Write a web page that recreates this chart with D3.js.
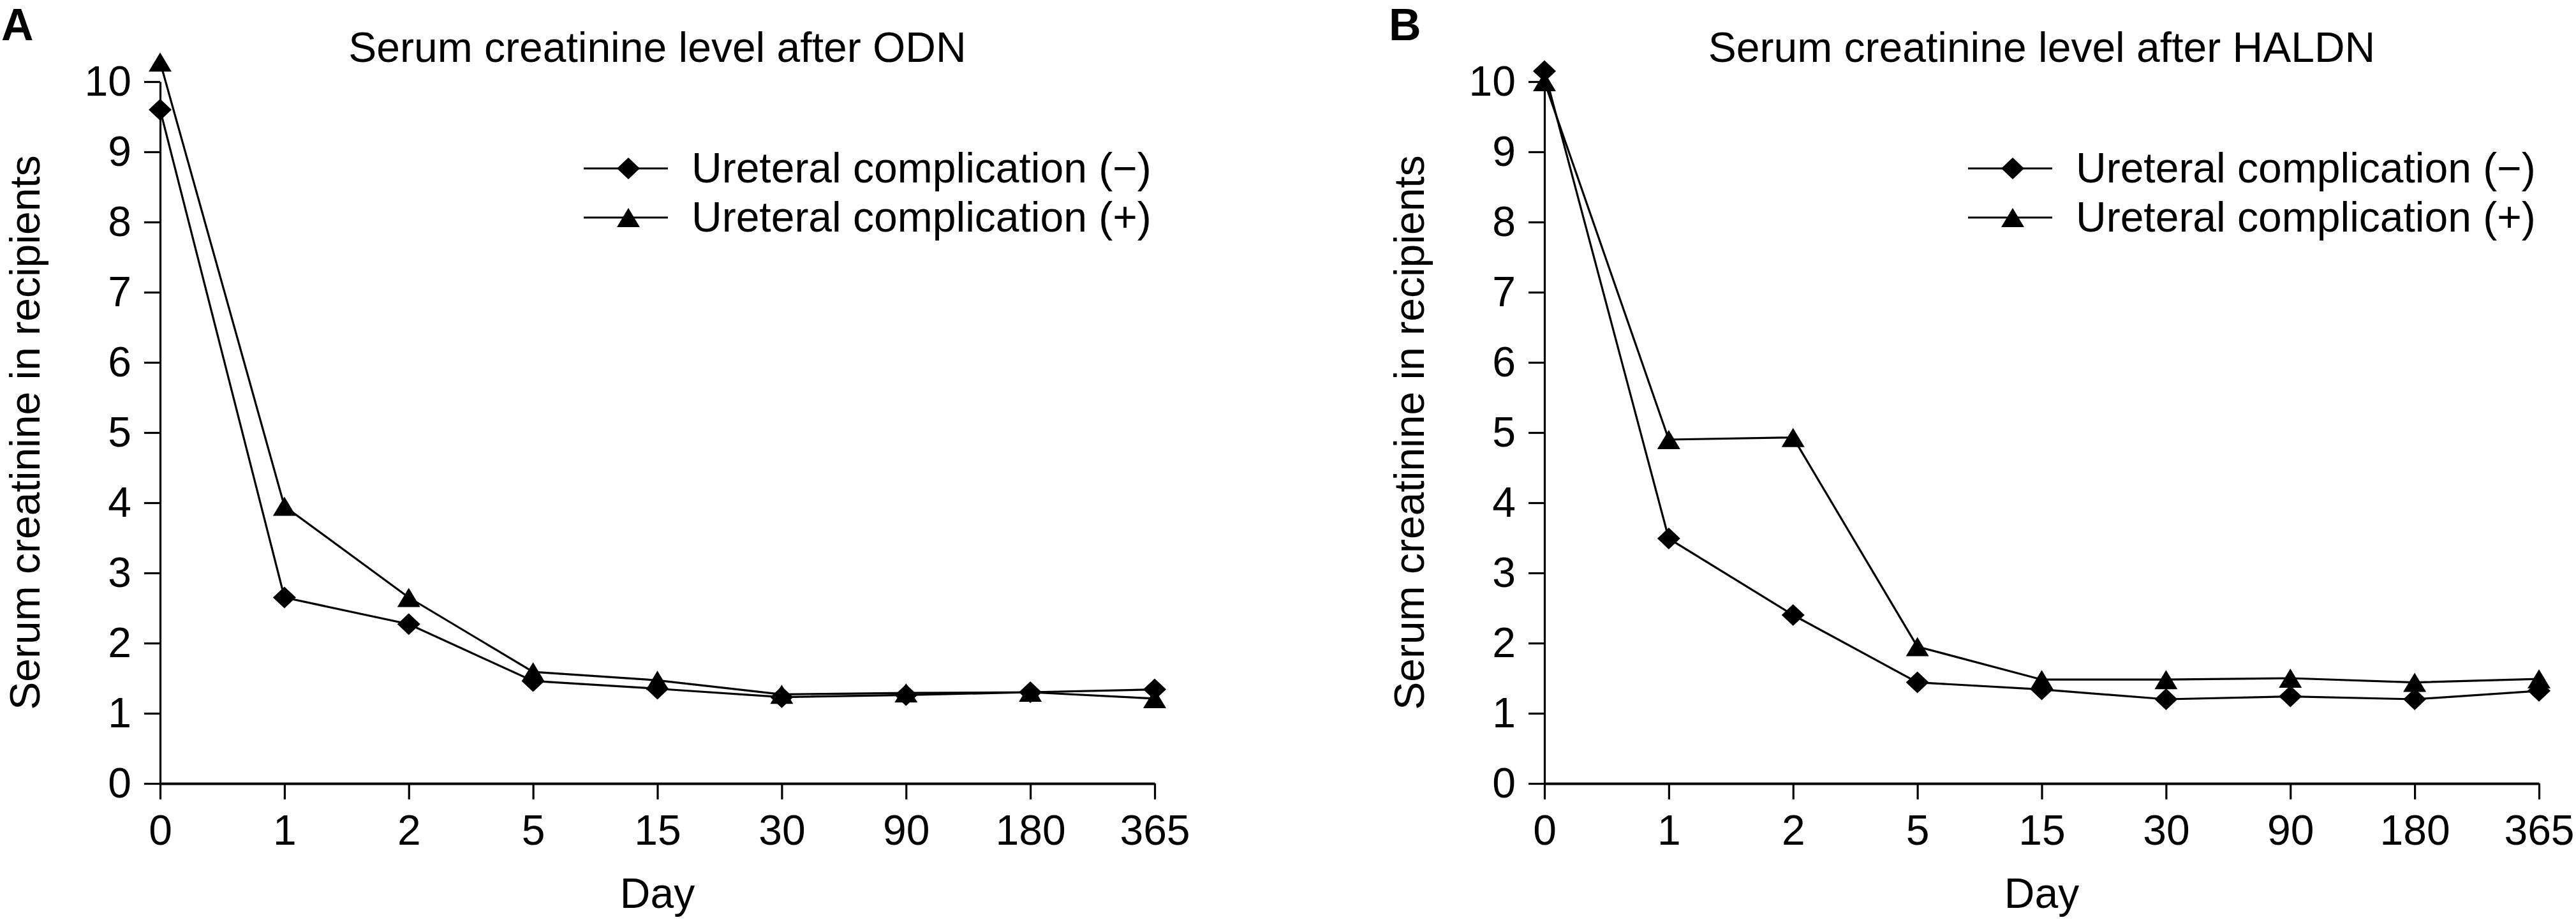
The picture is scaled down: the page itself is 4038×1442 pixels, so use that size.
<!DOCTYPE html>
<html>
<head>
<meta charset="utf-8">
<script src="https://cdn.jsdelivr.net/npm/d3@7/dist/d3.min.js"></script>
<style>
  html, body { margin: 0; padding: 0; background: #fff; }
  svg text { font-family: "Liberation Sans", Arial, Helvetica, sans-serif; fill: #000; }
</style>
</head>
<body>
<svg id="chart" width="4038" height="1442"></svg>
<script>
// ---- Data ----
const days = ["0", "1", "2", "5", "15", "30", "90", "180", "365"];
const yTicks = [0, 1, 2, 3, 4, 5, 6, 7, 8, 9, 10];
const seriesNames = ["Ureteral complication (\u2212)", "Ureteral complication (+)"];

const odnNeg = [9.6, 2.65, 2.27, 1.46, 1.35, 1.23, 1.26, 1.30, 1.34];
const odnPos = [10.28, 3.95, 2.65, 1.59, 1.47, 1.27, 1.29, 1.30, 1.21];

const haldnNeg = [10.15, 3.49, 2.40, 1.44, 1.34, 1.20, 1.24, 1.20, 1.32];
const haldnPos = [10.0, 4.90, 4.93, 1.95, 1.48, 1.48, 1.50, 1.44, 1.49];

const panelLabels = ["A", "B"];
const panelTitles = ["Serum creatinine level after ODN", "Serum creatinine level after HALDN"];
const yTitle = "Serum creatinine in recipients";
const xTitle = "Day";

// ---- Layout ----
const svg = d3.select("#chart");
const W = 1559, H = 1100;
const panels = [
  { ox: 251, oy: 128, lx: 2, label: panelLabels[0], title: panelTitles[0], neg: odnNeg, pos: odnPos },
  { ox: 2421, oy: 128, lx: 2177, label: panelLabels[1], title: panelTitles[1], neg: haldnNeg, pos: haldnPos }
];

const FS = 66;
const diamond = "M0,-17L18,0L0,17L-18,0Z";
const triangle = "M0,-15L18,15L-18,15Z";

panels.forEach(p => {
  const x = d3.scalePoint().domain(days).range([0, W]);
  const y = d3.scaleLinear().domain([0, 10]).range([H, 0]);

  // Panel letter
  svg.append("text")
    .attr("x", p.lx)
    .attr("y", 63)
    .attr("font-size", 70)
    .attr("font-weight", "bold")
    .text(p.label);

  const g = svg.append("g").attr("transform", `translate(${p.ox},${p.oy})`);

  // Title
  g.append("text")
    .attr("x", W / 2).attr("y", 97 - p.oy)
    .attr("text-anchor", "middle")
    .attr("font-size", FS)
    .text(p.title);

  // Y axis
  const ya = g.append("g")
    .call(d3.axisLeft(y).tickValues(yTicks).tickSize(25).tickSizeOuter(0).tickPadding(20).tickFormat(d3.format("d")));
  ya.select(".domain").attr("stroke", "#000").attr("stroke-width", 3.2);
  ya.selectAll(".tick line").attr("stroke", "#000").attr("stroke-width", 3.2);
  ya.selectAll(".tick text").attr("font-size", FS).attr("font-family", "Liberation Sans, Arial, sans-serif");

  // X axis
  const xa = g.append("g").attr("transform", `translate(0,${H})`)
    .call(d3.axisBottom(x).tickSize(25).tickSizeOuter(0).tickPadding(24));
  xa.select(".domain").attr("stroke", "#000").attr("stroke-width", 4.2);
  xa.selectAll(".tick line").attr("stroke", "#000").attr("stroke-width", 3.2);
  xa.selectAll(".tick text").attr("font-size", FS).attr("font-family", "Liberation Sans, Arial, sans-serif");

  // Axis titles
  g.append("text")
    .attr("transform", `translate(${62 - 251},${H / 2}) rotate(-90)`)
    .attr("text-anchor", "middle")
    .attr("font-size", FS)
    .text(yTitle);
  g.append("text")
    .attr("x", W / 2).attr("y", 1423 - p.oy)
    .attr("text-anchor", "middle")
    .attr("font-size", FS)
    .text(xTitle);

  const line = d3.line().x((d, i) => x(days[i])).y(d => y(d));

  [[p.neg, diamond], [p.pos, triangle]].forEach(([vals, shape]) => {
    g.append("path").datum(vals)
      .attr("d", line)
      .attr("fill", "none").attr("stroke", "#000").attr("stroke-width", 3.2)
      .attr("stroke-linejoin", "miter");
    g.selectAll(null).data(vals).enter().append("path")
      .attr("d", shape)
      .attr("transform", (d, i) => `translate(${x(days[i])},${y(d)})`)
      .attr("fill", "#000");
  });

  // Legend
  const lg = g.append("g");
  const rows = [[seriesNames[0], diamond, 264], [seriesNames[1], triangle, 341]];
  rows.forEach(([name, shape, ly]) => {
    const yy = ly - p.oy;
    lg.append("line")
      .attr("x1", 915 - 251).attr("x2", 1047 - 251)
      .attr("y1", yy).attr("y2", yy)
      .attr("stroke", "#000").attr("stroke-width", 3.2);
    lg.append("path").attr("d", shape)
      .attr("transform", `translate(${985 - 251},${yy})`)
      .attr("fill", "#000");
    lg.append("text")
      .attr("x", 1084 - 251).attr("y", yy + 22)
      .attr("font-size", FS)
      .text(name);
  });
});
</script>
</body>
</html>
